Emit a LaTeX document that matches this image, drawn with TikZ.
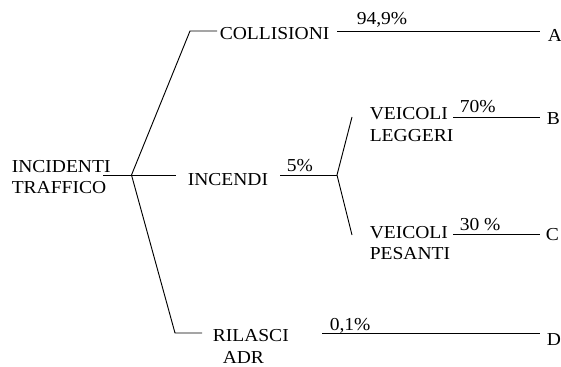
\documentclass[tikz,border=0pt]{standalone}
\usepackage{fontspec}
\setmainfont{Liberation Serif}[FakeStretch=1.07]
\usetikzlibrary{positioning,calc}
\tikzset{
  evt/.style={font=\fontsize{13.7}{16.3}\selectfont, inner sep=0pt, align=left, anchor=base west},
  pct/.style={font=\fontsize{13.7}{16}\selectfont, inner sep=0pt, anchor=base west},
  leaf/.style={font=\fontsize{13.7}{16}\selectfont, inner sep=0pt, anchor=base west},
  branch/.style={line width=0.7pt},
}

\begin{document}
\begin{tikzpicture}[x=0.75pt, y=-0.75pt]
    \useasboundingbox (0,0) rectangle (561,367);
    % events
    \node[evt] (root) at (11.5,194) {INCIDENTI\\TRAFFICO};
    \node[evt] (coll) at (219.5,40) {COLLISIONI};
    \node[evt] (inc) at (187.5,186) {INCENDI};
    \node[evt] (leg) at (369.5,141.7) {VEICOLI\\LEGGERI};
    \node[evt] (pes) at (369.5,260) {VEICOLI\\PESANTI};
    \node[evt] (ril) at (212.5,363.5) {RILASCI\\\hspace*{7.5pt}ADR};
    % outcomes
    \node[leaf] (A) at (547.5,41.5) {A};
    \node[leaf] (B) at (546.5,125) {B};
    \node[leaf] (C) at (545.5,241) {C};
    \node[leaf] (D) at (546.5,345) {D};
    % branch points
    \coordinate (f0) at (131.5,175);
    \coordinate (f1) at (337,175);
    \coordinate (r0) at (103,175);
    \coordinate (i0) at (176,175);
    \coordinate (c0) at (190,31);
    \coordinate (c1) at (217,31);
    \coordinate (d0) at (175,333);
    \coordinate (d1) at (202,333);
    \coordinate (i1) at (280,175);
    \coordinate (l0) at (352,117);
    \coordinate (p0) at (352,235);
    \coordinate (a0) at (337,31);
    \coordinate (a1) at (540,31);
    \coordinate (b0) at (453,117);
    \coordinate (b1) at (540,117);
    \coordinate (e0) at (453,234);
    \coordinate (e1) at (540,234);
    \coordinate (g0) at (322,333);
    \coordinate (g1) at (540,333);
    \draw[branch] (r0) -- (i0);
    \draw[branch] (f0) -- (c0) -- (c1);
    \draw[branch] (f0) -- (d0) -- (d1);
    \draw[branch] (i1) -- (f1);
    \draw[branch] (f1) -- (l0);
    \draw[branch] (f1) -- (p0);
    \draw[branch] (a0) -- (a1);
    \draw[branch] (b0) -- (b1);
    \draw[branch] (e0) -- (e1);
    \draw[branch] (g0) -- (g1);
    % probabilities
    \node[pct] (pa) at (356.5,25) {94,9\%};
    \node[pct] (pi) at (286.5,171.7) {5\%};
    \node[pct] (pb) at (459.5,112.7) {70\%};
    \node[pct] (pc) at (459.5,231) {30 \%};
    \node[pct] (pd) at (329.5,330) {0,1\%};
\end{tikzpicture}
\end{document}
